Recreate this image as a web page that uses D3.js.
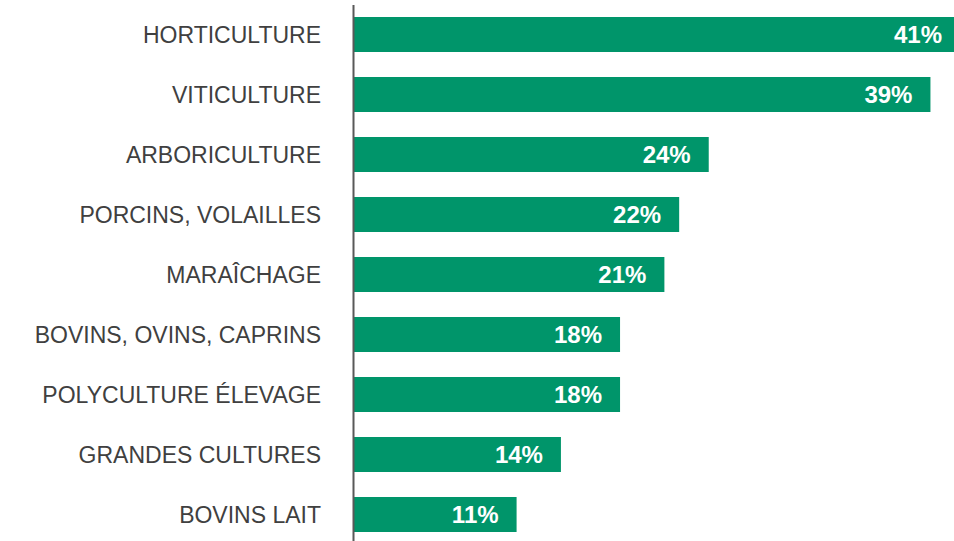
<!DOCTYPE html>
<html>
<head>
<meta charset="utf-8">
<script src="https://cdn.jsdelivr.net/npm/d3@7"></script>
<style>
  html, body { margin: 0; padding: 0; background: #ffffff; }
  svg { display: block; }
</style>
</head>
<body>
<svg id="chart" width="954" height="541"></svg>
<script>
const categories = ["HORTICULTURE", "VITICULTURE", "ARBORICULTURE", "PORCINS, VOLAILLES", "MARAÎCHAGE", "BOVINS, OVINS, CAPRINS", "POLYCULTURE ÉLEVAGE", "GRANDES CULTURES", "BOVINS LAIT"];
const values = [41, 39, 24, 22, 21, 18, 18, 14, 11];
const valueLabels = ["41%", "39%", "24%", "22%", "21%", "18%", "18%", "14%", "11%"];

const data = categories.map((c, i) => ({ cat: c, value: values[i], label: valueLabels[i] }));

const svg = d3.select("#chart");
const x0 = 354;

const x = d3.scaleLinear().domain([0, 41]).range([x0, 960]);
const y = d3.scaleBand()
  .domain(categories)
  .range([4.5, 544.5])
  .paddingInner(25 / 60)
  .paddingOuter(12.5 / 60);

svg.append("g")
  .selectAll("rect")
  .data(data)
  .join("rect")
  .attr("x", x(0))
  .attr("y", d => y(d.cat))
  .attr("width", d => x(d.value) - x(0))
  .attr("height", y.bandwidth())
  .attr("fill", "#00956A");

svg.append("g")
  .selectAll("text")
  .data(data)
  .join("text")
  .attr("x", d => x(d.value) - 18)
  .attr("y", d => y(d.cat) + y.bandwidth() / 2)
  .attr("dy", "0.36em")
  .attr("text-anchor", "end")
  .attr("fill", "#ffffff")
  .attr("font-family", "'Liberation Sans', Arial, sans-serif")
  .attr("font-weight", "bold")
  .attr("font-size", "24px")
  .text(d => d.label);

const axis = svg.append("g")
  .attr("transform", `translate(${x0 - 1},0)`)
  .call(d3.axisLeft(y).tickSize(0).tickPadding(32));

axis.select(".domain")
  .attr("stroke", "#595959")
  .attr("stroke-width", 2);

axis.selectAll(".tick text")
  .attr("fill", "#404040")
  .attr("font-family", "'Liberation Sans', Arial, sans-serif")
  .attr("font-size", "23px")
  .attr("dy", "0.36em");
</script>
</body>
</html>
